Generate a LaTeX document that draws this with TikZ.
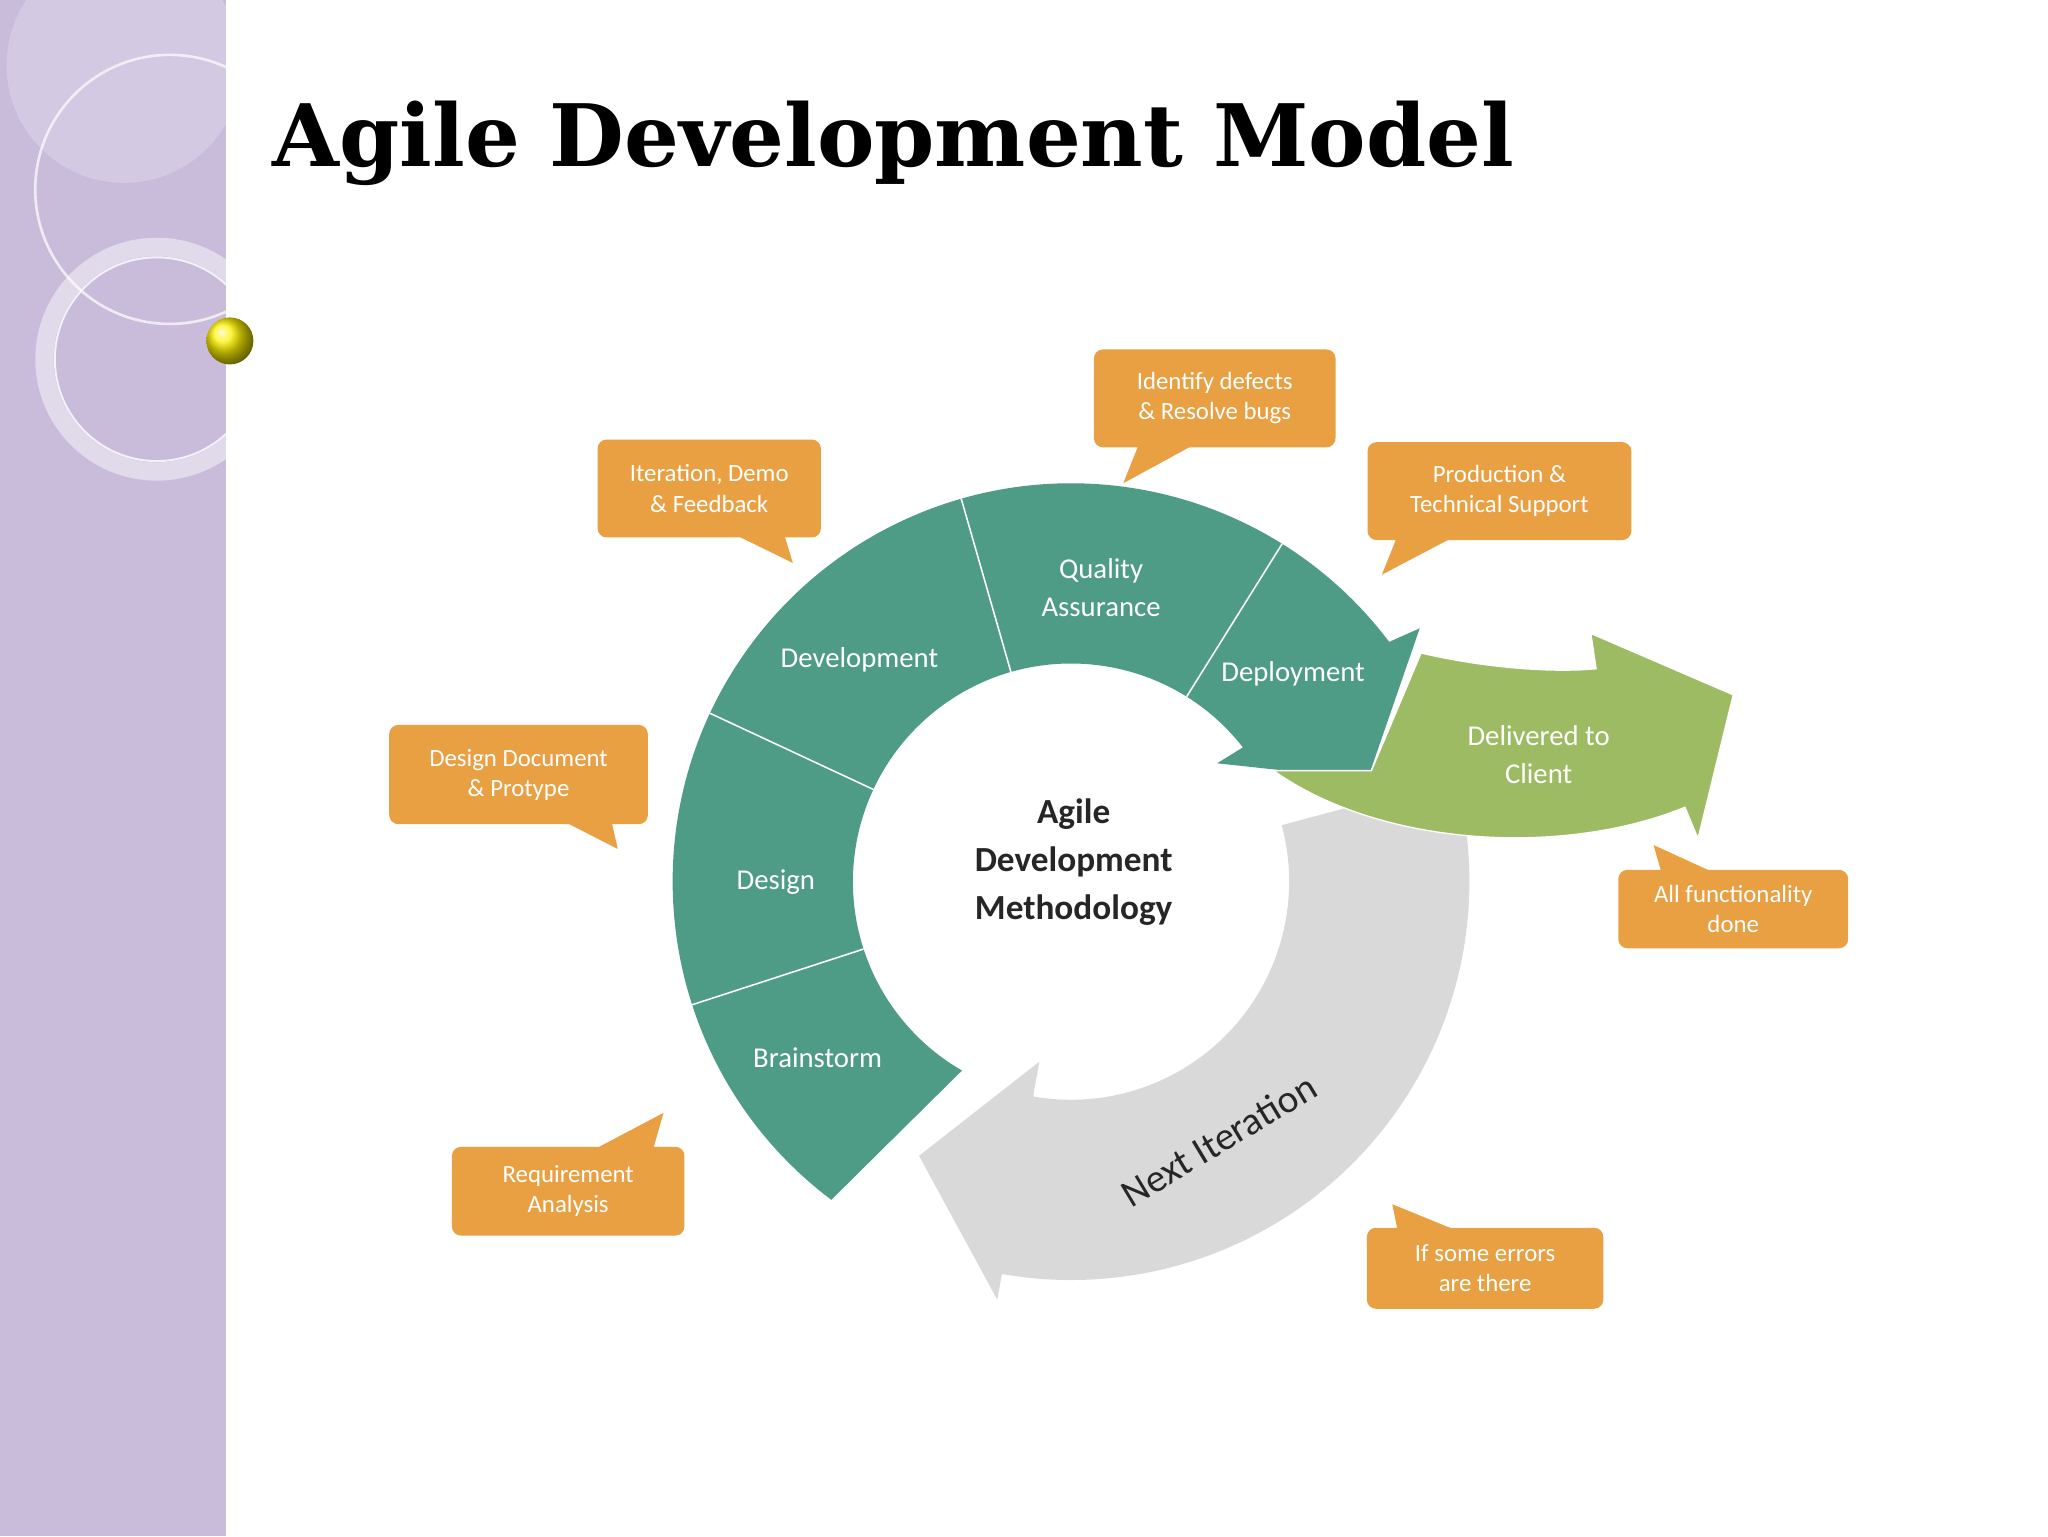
\documentclass[tikz,border=0pt]{standalone}
\usepackage{fontspec}
\setsansfont{Carlito}
\setmainfont{DejaVu Serif}
\definecolor{tealc}{HTML}{4E9C85}
\definecolor{grayc}{HTML}{D9D9D9}
\definecolor{greenc}{HTML}{9DBB63}
\definecolor{orangec}{HTML}{E8A043}
\definecolor{lav}{HTML}{C9BCDB}
\tikzset{
 callout/.style={fill=orangec,rounded corners=7pt,text=white,font=\sffamily\fontsize{19}{23}\selectfont,align=center,inner sep=0pt},
 ringlbl/.style={text=white,font=\sffamily\fontsize{22}{28}\selectfont,align=center},
 tail/.style={fill=orangec}
}
\begin{document}
\begin{tikzpicture}[x=1pt,y=-1pt]
\useasboundingbox (0,0) rectangle (1568,1176);
\fill[white] (0,0) rectangle (1568,1176);
% left strip
\fill[lav] (0,0) rectangle (173,1176);
\begin{scope}
\clip (0,0) rectangle (173,1176);
\fill[white,opacity=0.2] (95,50) circle (90);
\draw[white,opacity=0.7,line width=2pt] (130,145) circle (103);
\draw[white,opacity=0.45,line width=14pt] (120,275) circle (86);
\draw[white,opacity=0.8,line width=1.5pt] (120,275) circle (78);
\end{scope}
\shade[ball color=yellow!90!orange] (176,261) circle (18);
\node[anchor=west,font=\rmfamily\bfseries\fontsize{66}{74}\selectfont] (title) at (205,110) {Agile Development Model};
% ring
\begin{scope}[shift={(820,675)},yscale=-1]
\fill[grayc] (15:305) arc[start angle=15,end angle=-100,radius=305] -- (-100:325) -- (-119:240) -- (-100:140) -- (-100:167) arc[start angle=-100,end angle=15,radius=167] -- cycle;
\fill[tealc] (233:305) arc[start angle=233,end angle=37,radius=305] -- (36:330) -- (19:240) -- (39:144) -- (38:167) arc[start angle=38,end angle=240,radius=167] -- cycle;
\foreach \a in {-162,155,106,58}{\draw[white,line width=1.2pt] (\a:167) -- (\a:305);}
\end{scope}
\fill[greenc,draw=white,line width=1pt] (1088,500) .. controls (1140,512) and (1190,515) .. (1222,512) -- (1218,485) -- (1327,532) -- (1300,642) -- (1290,618) .. controls (1200,655) and (1060,650) .. (975,590) -- (1050,590) -- cycle;
\node[ringlbl] (dev) at (658,505) {Development};
\node[ringlbl,font=\sffamily\fontsize{22}{29}\selectfont] (qa) at (843,450) {Quality\\Assurance};
\node[ringlbl] (dep) at (990,516) {Deployment};
\node[ringlbl] (des) at (594,675) {Design};
\node[ringlbl] (bra) at (626,810) {Brainstorm};
\node[ringlbl,font=\sffamily\fontsize{22}{29}\selectfont] (del) at (1178,578) {Delivered to\\Client};
\node[font=\sffamily\bfseries\fontsize{27}{37}\selectfont,align=center,text=black!85] (ctr) at (822,660) {Agile\\Development\\Methodology};
\node[font=\sffamily\fontsize{30}{32}\selectfont,rotate=31,text=black!85,inner sep=0pt] (nxt) at (933,873) {Next Iteration};
% callouts
\fill[tail] (872,340) -- (860,370) -- (915,340) -- cycle;
\node[callout,minimum width=185pt,minimum height=75pt] (c1) at (930,305) {Identify defects\\\& Resolve bugs};
\fill[tail] (560,408) -- (607,431) -- (600,408) -- cycle;
\node[callout,minimum width=171pt,minimum height=75pt] (c2) at (543,374) {Iteration, Demo\\\& Feedback};
\fill[tail] (1070,410) -- (1058,440) -- (1115,410) -- cycle;
\node[callout,minimum width=202pt,minimum height=75pt] (c3) at (1148,376) {Production \&\\Technical Support};
\fill[tail] (430,628) -- (473,650) -- (468,628) -- cycle;
\node[callout,minimum width=198pt,minimum height=76pt] (c4) at (397,593) {Design Document\\\& Protype};
\fill[tail] (455,880) -- (508,852) -- (500,880) -- cycle;
\node[callout,minimum width=178pt,minimum height=68pt] (c5) at (435,912) {Requirement\\Analysis};
\fill[tail] (1272,668) -- (1266,647) -- (1312,668) -- cycle;
\node[callout,minimum width=176pt,minimum height=60pt] (c6) at (1327,696) {All functionality\\done};
\fill[tail] (1070,942) -- (1066,922) -- (1115,942) -- cycle;
\node[callout,minimum width=181pt,minimum height=62pt] (c7) at (1137,971) {If some errors\\are there};
\end{tikzpicture}
\end{document}
